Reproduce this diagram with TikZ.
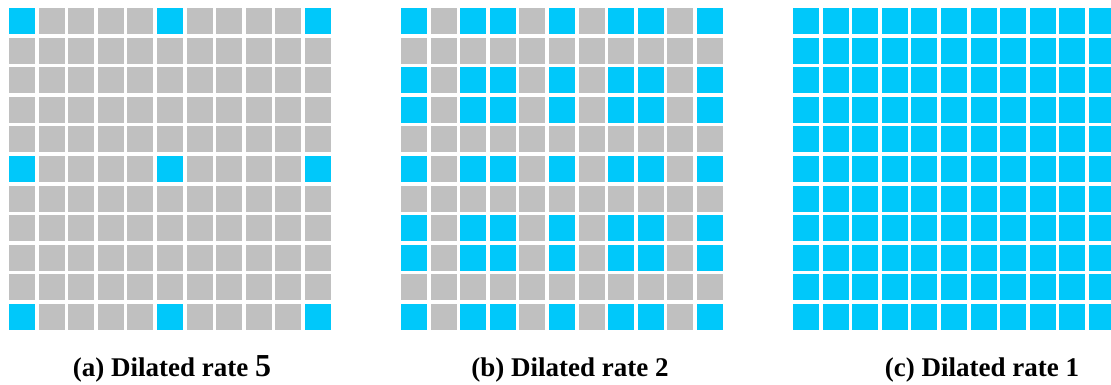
\documentclass[tikz,border=0pt]{standalone}
\usepackage{fontspec}
\setmainfont{Liberation Serif}
\definecolor{cellblue}{RGB}{0,200,250}
\definecolor{cellgray}{RGB}{192,192,192}
\newcommand\fivemask[1]{\ifcase#1 1\or0\or0\or0\or0\or1\or0\or0\or0\or0\or1\fi}
\newcommand\twomask[1]{\ifcase#1 1\or0\or1\or1\or0\or1\or0\or1\or1\or0\or1\fi}
\begin{document}
\begin{tikzpicture}[x=1pt,y=-1pt,
  cellb/.style={fill=cellblue},
  cellg/.style={fill=cellgray},
  lab/.style={font=\fontsize{27}{30}\selectfont\bfseries, inner sep=0pt, anchor=base}]
\useasboundingbox (0,0) rectangle (1111,385);
\begin{scope}
\clip (0,0) rectangle (1111,385);
% grid (a)
\foreach \i in {0,...,10}{
  \foreach \j in {0,...,10}{
    \ifnum\fivemask{\i}\fivemask{\j}=11
      \fill[cellb] ({9+\i*29.6},{8+\j*29.6}) rectangle ++(26,26);
    \else
      \fill[cellg] ({9+\i*29.6},{8+\j*29.6}) rectangle ++(26,26);
    \fi
  }
}
% grid (b)
\foreach \i in {0,...,10}{
  \foreach \j in {0,...,10}{
    \ifnum\twomask{\i}\twomask{\j}=11
      \fill[cellb] ({401+\i*29.6},{8+\j*29.6}) rectangle ++(26,26);
    \else
      \fill[cellg] ({401+\i*29.6},{8+\j*29.6}) rectangle ++(26,26);
    \fi
  }
}
% grid (c)
\foreach \i in {0,...,10}{
  \foreach \j in {0,...,10}{
    \fill[cellb] ({793+\i*29.6},{8+\j*29.6}) rectangle ++(26,26);
  }
}
\end{scope}
\node[lab] (la) at (172,376) {(a) Dilated rate {\fontsize{32}{34}\selectfont 5}};
\node[lab] (lb) at (570,376) {(b) Dilated rate 2};
\node[lab] (lc) at (982,376) {(c) Dilated rate 1};
\end{tikzpicture}
\end{document}
